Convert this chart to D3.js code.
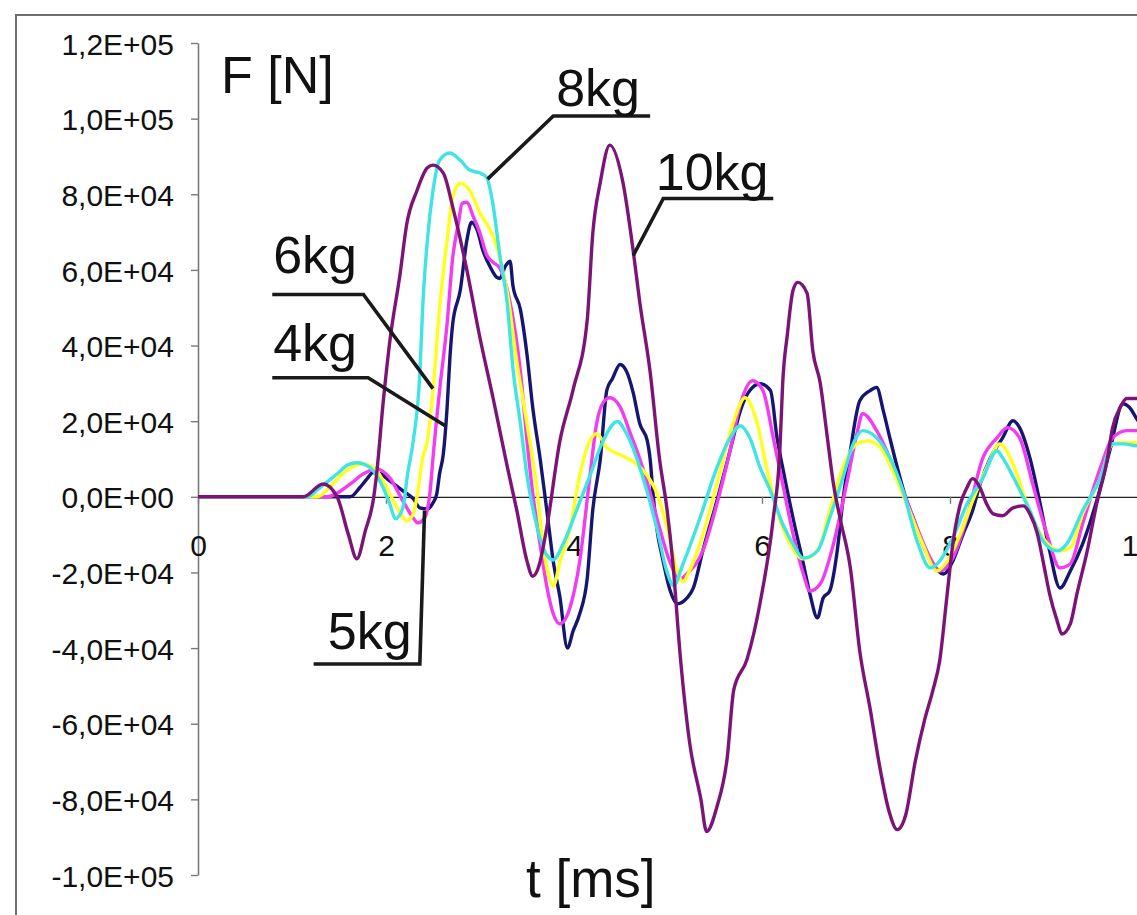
<!DOCTYPE html>
<html>
<head>
<meta charset="utf-8">
<script src="https://cdn.jsdelivr.net/npm/d3@7"></script>
<style>
  body { margin: 0; background: #fff; }
  svg { display: block; font-family: "Liberation Sans", Arial, sans-serif; }
</style>
</head>
<body>
<svg id="chart" width="1137" height="915"></svg>
<script>
// force traces, t in ms, F in kN (multiplied by 1000 when drawn)
const f4kg = [[0,0],[1.62,0],[1.72,2.4],[1.80,4.8],[1.86,6.4],[1.94,6.1],[2.04,4.2],[2.18,1.6],[2.29,-0.5],[2.36,-2.9],[2.44,-3.2],[2.50,-1.6],[2.54,0.8],[2.57,6.1],[2.61,11.4],[2.65,23.6],[2.68,36.8],[2.71,45.8],[2.79,54.6],[2.86,67.8],[2.91,72.6],[2.97,70.5],[3.03,65.2],[3.11,60.7],[3.18,58],[3.21,57.7],[3.27,61],[3.32,62.3],[3.35,55.9],[3.43,49.5],[3.50,37.6],[3.56,23.8],[3.64,10],[3.71,-3.4],[3.78,-17.2],[3.85,-26.5],[3.93,-40],[3.99,-35.5],[4.06,-31],[4.14,-21.7],[4.20,-3.4],[4.28,10],[4.35,28.3],[4.41,31.3],[4.49,35],[4.56,33.1],[4.63,27.5],[4.70,19.3],[4.78,14.8],[4.81,10],[4.84,1.1],[4.88,-8.2],[4.95,-17.2],[5.02,-24.6],[5.10,-28.3],[5.20,-26.8],[5.27,-24.1],[5.37,-14.3],[5.52,-1.1],[5.66,12.2],[5.77,22.8],[5.87,28.1],[5.98,29.9],[6.09,28.1],[6.16,15.6],[6.22,7.7],[6.33,-5.6],[6.44,-17.7],[6.51,-25.7],[6.59,-32],[6.65,-26.8],[6.72,-24.9],[6.80,-14.3],[6.86,-1.1],[6.94,12.2],[7.04,25.4],[7.15,28.1],[7.22,28.9],[7.29,22.8],[7.36,15.6],[7.44,7.7],[7.54,-1.1],[7.61,-5.6],[7.71,-12.5],[7.82,-17.7],[7.93,-20.4],[8.03,-17],[8.14,-9.8],[8.24,-3.7],[8.32,3.4],[8.43,10.3],[8.56,15.6],[8.67,20.1],[8.74,18.3],[8.85,10.3],[8.96,-1.9],[9.06,-14.3],[9.17,-24.1],[9.28,-19.6],[9.41,-12.5],[9.56,-1.1],[9.70,12.2],[9.84,24.6],[9.91,23.6],[10.0,20.1],[10.2,16]];
const f5kg = [[0,0],[1.37,0],[1.62,3.4],[1.76,6.1],[1.90,7.4],[2.04,5.0],[2.18,-1.1],[2.29,-5.6],[2.34,-6.9],[2.41,-5.6],[2.47,1.6],[2.50,10.3],[2.57,28.1],[2.65,45.8],[2.71,63.3],[2.77,72.3],[2.81,77.6],[2.86,77.9],[2.93,74],[3.0,69.7],[3.07,64],[3.14,62],[3.21,60.5],[3.32,51.4],[3.43,33.1],[3.50,14.8],[3.56,1.1],[3.64,-12.7],[3.71,-23.6],[3.78,-31],[3.85,-33.6],[3.96,-29.1],[4.06,-17.2],[4.17,5.6],[4.24,19.3],[4.31,24.9],[4.38,26.2],[4.49,23.8],[4.60,16.7],[4.70,10],[4.81,1.1],[4.91,-8.2],[5.02,-17.2],[5.13,-21.7],[5.20,-20.4],[5.37,-14.3],[5.52,-1.9],[5.66,12.2],[5.77,24.6],[5.90,30.7],[6.01,28.1],[6.12,15.6],[6.22,3.4],[6.33,-9.8],[6.44,-20.4],[6.51,-24.9],[6.62,-23],[6.76,-12.5],[6.90,3.4],[7.01,16.7],[7.07,22],[7.22,17.5],[7.36,10.3],[7.50,1.6],[7.65,-8.2],[7.79,-16.2],[7.89,-19.6],[8.03,-16.2],[8.18,-5.6],[8.35,10.3],[8.50,15.6],[8.61,18.3],[8.74,15.6],[8.88,3.4],[9.03,-9.8],[9.17,-18.8],[9.28,-17.7],[9.41,-7.2],[9.60,7.7],[9.73,15.6],[9.88,17.5],[10.0,17.5],[10.2,17.5]];
const f6kg = [[0,0],[1.27,0],[1.40,2.5],[1.54,6.1],[1.76,8.7],[1.90,6.9],[2.04,0.8],[2.15,-4.2],[2.22,-6.4],[2.29,-4.5],[2.34,1.6],[2.39,10.3],[2.44,14.8],[2.50,28.1],[2.57,50],[2.65,67.8],[2.71,79.2],[2.79,82.9],[2.89,81],[3.0,75],[3.11,70.5],[3.18,66],[3.24,60],[3.29,54],[3.39,36],[3.50,19.3],[3.61,1.1],[3.67,-12.7],[3.74,-21.7],[3.78,-23.6],[3.85,-17.2],[3.96,-8.2],[4.06,5.6],[4.17,14.8],[4.24,16.7],[4.35,13],[4.49,11.1],[4.63,9.3],[4.78,5.6],[4.88,1.1],[4.99,-8.2],[5.10,-19.9],[5.16,-22.5],[5.22,-20],[5.34,-12.5],[5.52,3.4],[5.69,19.3],[5.82,26.2],[5.95,19.3],[6.05,7.7],[6.16,-3.7],[6.30,-12.5],[6.44,-16.4],[6.59,-14.3],[6.72,-3.7],[6.86,7.7],[7.01,14],[7.12,14.8],[7.26,13],[7.39,6.9],[7.54,-1.9],[7.71,-12.5],[7.86,-19.6],[7.97,-17],[8.11,-9.8],[8.24,-1.1],[8.39,7.7],[8.53,14],[8.67,8.7],[8.82,-1.9],[8.99,-10.9],[9.17,-14.3],[9.28,-13.5],[9.41,-4.5],[9.60,5.0],[9.73,14],[9.84,14.3],[10.0,14.3],[10.2,14.3]];
const f8kg = [[0,0],[1.16,0],[1.30,2.5],[1.48,6.1],[1.60,8.5],[1.69,9.0],[1.83,7.7],[1.97,2.4],[2.04,-1.9],[2.10,-5.8],[2.18,-2.9],[2.23,6.1],[2.29,14.8],[2.36,32.6],[2.39,50],[2.44,67.8],[2.50,81],[2.57,89],[2.68,90.9],[2.79,89],[2.89,86.4],[3.0,85.6],[3.07,84.5],[3.14,77],[3.21,64],[3.29,51],[3.35,34],[3.43,19.3],[3.50,5.6],[3.61,-8.2],[3.71,-15.4],[3.78,-16.7],[3.88,-12.7],[4.03,-3.4],[4.17,5.6],[4.31,14.8],[4.46,19.9],[4.56,16.7],[4.67,10],[4.78,1.1],[4.88,-8.2],[4.99,-19.9],[5.06,-23.5],[5.16,-17.7],[5.34,-5.6],[5.52,7.7],[5.66,15.6],[5.77,18.8],[5.87,15.6],[5.98,7.7],[6.09,1.6],[6.22,-7.2],[6.33,-12.5],[6.44,-16.2],[6.59,-14.3],[6.72,-5.6],[6.86,5.0],[6.97,14],[7.07,17.5],[7.22,15.6],[7.36,10.3],[7.50,1.6],[7.65,-11.7],[7.79,-18.8],[7.89,-17],[8.03,-10.9],[8.18,-1.9],[8.35,5.0],[8.50,12.2],[8.56,10.3],[8.71,3.4],[8.85,-3.7],[8.99,-11.7],[9.14,-14.3],[9.24,-12.5],[9.41,-3.7],[9.60,5.0],[9.73,14],[9.84,14],[10.0,13.5],[10.2,13.5]];
const f10kg = [[0,0],[1.12,0],[1.33,3.4],[1.48,0],[1.60,-10],[1.69,-16.4],[1.78,-9],[1.87,0],[1.90,6],[1.97,25],[2.04,41],[2.15,59],[2.22,72],[2.33,81],[2.44,87],[2.50,87.7],[2.61,85.6],[2.71,76.6],[2.86,60],[3.0,42],[3.14,26],[3.29,8],[3.39,-3.4],[3.50,-17],[3.56,-21],[3.63,-18],[3.71,-8.2],[3.85,14.8],[3.99,28.3],[4.14,46.6],[4.20,69.7],[4.28,83.2],[4.38,93],[4.52,83.2],[4.63,65],[4.70,51.4],[4.81,33],[4.91,10],[4.99,-3.4],[5.05,-17],[5.13,-42],[5.23,-65],[5.35,-80],[5.41,-88.5],[5.52,-82],[5.63,-69],[5.70,-51],[5.84,-43],[5.98,-28],[6.12,-5.6],[6.19,12.2],[6.22,30],[6.27,43],[6.33,54.6],[6.38,56.7],[6.48,53.8],[6.54,38.7],[6.62,30],[6.69,16.7],[6.76,3.4],[6.83,-5.6],[6.94,-18.8],[7.04,-40.8],[7.15,-56],[7.25,-71],[7.35,-83],[7.44,-88],[7.53,-84],[7.63,-70],[7.73,-59],[7.82,-51],[7.89,-43.4],[7.97,-25.7],[8.03,-12.5],[8.11,-1.9],[8.18,2.4],[8.24,4.8],[8.32,2.4],[8.39,-1.9],[8.46,-4.5],[8.56,-5.0],[8.67,-2.9],[8.78,-2.4],[8.85,-4.5],[8.93,-9.8],[8.99,-17],[9.06,-25.7],[9.14,-32.8],[9.19,-36.3],[9.28,-33.6],[9.35,-25.7],[9.46,-14.3],[9.56,-1.9],[9.67,9.5],[9.73,18.3],[9.81,23.6],[9.88,26],[10.0,26],[10.2,24]];

const seriesNames = ['4kg', '5kg', '6kg', '8kg', '10kg'];
const seriesData = [f4kg, f5kg, f6kg, f8kg, f10kg];

const xTicks = [0, 2, 4, 6, 8, 10];
const yTicks = [120000, 100000, 80000, 60000, 40000, 20000, 0, -20000, -40000, -60000, -80000, -100000];
const yTickLabels = ['1,2E+05', '1,0E+05', '8,0E+04', '6,0E+04', '4,0E+04', '2,0E+04', '0,0E+00',
  '-2,0E+04', '-4,0E+04', '-6,0E+04', '-8,0E+04', '-1,0E+05'];

// label anchors and leader lines, in chart units (ms, kN)
const labelPos = {
  '8kg':  {text: [3.81, 103.4], leader: [[4.81, 100.7], [3.78, 100.7], [3.08, 84]]},
  '10kg': {text: [4.87, 81], leader: [[6.12, 78.9], [4.95, 78.9], [4.63, 63.8]]},
  '6kg':  {text: [0.80, 59.3], leader: [[0.79, 53.5], [1.76, 53.5], [2.50, 28.6]]},
  '4kg':  {text: [0.80, 36], leader: [[0.79, 31.5], [1.81, 31.5], [2.63, 18.8]]},
  '5kg':  {text: [1.38, -40.3], leader: [[1.23, -44.2], [2.36, -44.2], [2.41, -3.7]]}
};

const config = {
  colors: ['#161672', '#f23cf0', '#ffff1e', '#40e4e4', '#7c1478'],
  lineWidth: 3.4,
  tickFont: 30,
  titleFont: 52,
  labelFont: 52
};

const svg = d3.select('#chart');

// outer frame (runs off the right and bottom edges)
svg.append('rect')
  .attr('x', 16).attr('y', 15)
  .attr('width', 1300).attr('height', 1000)
  .attr('fill', '#fff')
  .attr('stroke', '#6e6e6e')
  .attr('stroke-width', 2);

const x = d3.scaleLinear().domain([0, 10]).range([198, 1138]);
const y = d3.scaleLinear().domain([-100000, 120000]).range([875, 43]);

// y axis
const yAxis = d3.axisLeft(y)
  .tickValues(yTicks)
  .tickFormat((d, i) => yTickLabels[i])
  .tickSize(7)
  .tickSizeOuter(0)
  .tickPadding(17);
const gy = svg.append('g')
  .attr('class', 'y-axis')
  .attr('transform', `translate(${x(0)},0)`)
  .call(yAxis);
gy.select('.domain').attr('stroke', '#7a7a7a').attr('stroke-width', 1.6);
gy.selectAll('.tick line').attr('stroke', '#7a7a7a').attr('stroke-width', 1.4);
gy.selectAll('.tick text')
  .attr('font-size', config.tickFont)
  .attr('font-family', '"Liberation Sans", Arial, sans-serif')
  .attr('fill', '#111')
  .attr('dy', '0.37em');

// x axis through zero
const xAxis = d3.axisBottom(x)
  .tickValues(xTicks)
  .tickSize(7)
  .tickSizeOuter(0)
  .tickPadding(31);
const gx = svg.append('g')
  .attr('class', 'x-axis')
  .attr('transform', `translate(0,${y(0)})`)
  .call(xAxis);
gx.select('.domain').attr('stroke', '#222').attr('stroke-width', 1.2);
gx.selectAll('.tick line').attr('stroke', '#7a7a7a').attr('stroke-width', 1.4);
gx.selectAll('.tick text')
  .attr('font-size', config.tickFont)
  .attr('font-family', '"Liberation Sans", Arial, sans-serif')
  .attr('fill', '#111');

// axis titles
svg.append('text')
  .attr('x', 221).attr('y', 93)
  .attr('font-size', config.titleFont)
  .attr('fill', '#111')
  .text('F [N]');
svg.append('text')
  .attr('x', 526).attr('y', 897)
  .attr('font-size', config.titleFont + 1)
  .attr('fill', '#111')
  .text('t [ms]');

// traces
const line = d3.line()
  .x(d => x(d[0]))
  .y(d => y(d[1] * 1000))
  .curve(d3.curveMonotoneX);

svg.append('g')
  .attr('class', 'traces')
  .selectAll('path')
  .data(seriesData)
  .join('path')
  .attr('d', d => line(d))
  .attr('fill', 'none')
  .attr('stroke', (d, i) => config.colors[i])
  .attr('stroke-width', config.lineWidth)
  .attr('stroke-linejoin', 'round');

// mass labels with leader lines
const leader = d3.line()
  .x(d => x(d[0]))
  .y(d => y(d[1] * 1000));

const labels = svg.append('g').attr('class', 'labels');
labels.selectAll('path')
  .data(seriesNames)
  .join('path')
  .attr('d', d => leader(labelPos[d].leader))
  .attr('fill', 'none')
  .attr('stroke', '#1a1a1a')
  .attr('stroke-width', 3.6);
labels.selectAll('text')
  .data(seriesNames)
  .join('text')
  .attr('x', d => x(labelPos[d].text[0]))
  .attr('y', d => y(labelPos[d].text[1] * 1000))
  .attr('font-size', config.labelFont)
  .attr('fill', '#111')
  .text(d => d);
</script>
</body>
</html>
